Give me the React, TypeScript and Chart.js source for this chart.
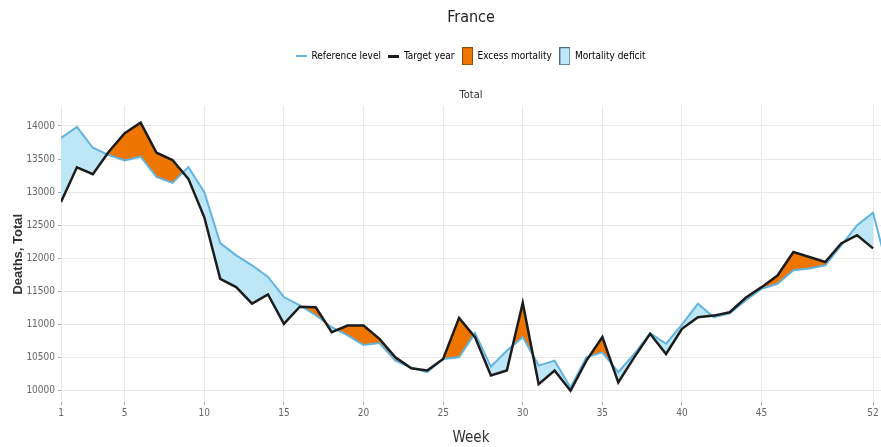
import React, { useEffect, useRef } from 'react';
import { Chart, registerables } from 'chart.js';

Chart.register(...registerables);

// ---- data ----
const weeks = [1, 2, 3, 4, 5, 6, 7, 8, 9, 10, 11, 12, 13, 14, 15, 16, 17, 18, 19, 20, 21, 22, 23, 24, 25, 26, 27, 28, 29, 30, 31, 32, 33, 34, 35, 36, 37, 38, 39, 40, 41, 42, 43, 44, 45, 46, 47, 48, 49, 50, 51, 52, 53];

const referenceLevel = [13820, 13985, 13670, 13560, 13480, 13535, 13230, 13140, 13380, 13000,
  12230, 12045, 11895, 11720, 11415, 11290, 11140, 10960, 10835, 10690,
  10720, 10455, 10345, 10280, 10480, 10505, 10870, 10365, 10605, 10810,
  10380, 10455, 10050, 10505, 10580, 10280, 10555, 10870, 10710, 11000,
  11315, 11110, 11170, 11365, 11540, 11615, 11820, 11845, 11895, 12195,
  12500, 12690, 11760];

const targetYear = [12850, 13375, 13270, 13610, 13890, 14050, 13595, 13485, 13200, 12620,
  11690, 11565, 11315, 11455, 11010, 11270, 11260, 10885, 10985, 10985,
  10785, 10505, 10340, 10305, 10480, 11100, 10810, 10230, 10305, 11325,
  10100, 10305, 10000, 10455, 10810, 10125, 10505, 10860, 10555, 10935,
  11110, 11135, 11185, 11405, 11565, 11740, 12095, 12020, 11945, 12225,
  12350, 12150];

const xTickValues = [1, 5, 10, 15, 20, 25, 30, 35, 40, 45, 52];
const yTickValues = [10000, 10500, 11000, 11500, 12000, 12500, 13000, 13500, 14000];

const legendLabels = ['Reference level', 'Target year', 'Excess mortality', 'Mortality deficit'];

// ---- styles ----
const NARROW = "'Liberation Sans Narrow', 'Arial Narrow', 'DejaVu Sans Condensed', sans-serif";
const BLUE_LINE = '#62b3e0';
const BLUE_FILL = '#bde7f7';
const ORANGE = '#ee7600';
const BLACK = '#1c1c1c';

function makeIcon(w: number, h: number, draw: (ctx: CanvasRenderingContext2D) => void) {
  const c = document.createElement('canvas');
  c.width = w;
  c.height = h;
  const ctx = c.getContext('2d');
  if (ctx) draw(ctx);
  return c;
}

export default function App() {
  const canvasRef = useRef<HTMLCanvasElement | null>(null);

  useEffect(() => {
    document.body.style.margin = '0';
    const canvas = canvasRef.current;
    if (!canvas) return;

    const refIcon = makeIcon(11, 2, (ctx) => {
      ctx.fillStyle = BLUE_LINE;
      ctx.fillRect(0, 0, 11, 2);
    });
    const targetIcon = makeIcon(11, 3, (ctx) => {
      ctx.fillStyle = BLACK;
      ctx.fillRect(0, 0, 11, 3);
    });
    const excessIcon = makeIcon(11, 18, (ctx) => {
      ctx.fillStyle = ORANGE;
      ctx.fillRect(0, 0, 11, 18);
      ctx.strokeStyle = '#8a4a10';
      ctx.lineWidth = 1;
      ctx.strokeRect(0.5, 0.5, 10, 17);
    });
    const deficitIcon = makeIcon(11, 18, (ctx) => {
      ctx.fillStyle = BLUE_FILL;
      ctx.fillRect(0, 0, 11, 18);
      ctx.strokeStyle = '#4a6f80';
      ctx.lineWidth = 1;
      ctx.strokeRect(0.5, 0.5, 10, 17);
    });
    const icons = [refIcon, targetIcon, excessIcon, deficitIcon];
    const iconColors = [BLUE_LINE, BLACK, ORANGE, BLUE_FILL];

    const chart = new Chart(canvas, {
      type: 'line',
      data: {
        labels: weeks,
        datasets: [
          {
            label: 'Target year',
            data: targetYear,
            borderColor: BLACK,
            borderWidth: 2.5,
            pointRadius: 0,
            tension: 0,
            fill: { target: 1, above: ORANGE, below: BLUE_FILL },
          },
          {
            label: 'Reference level',
            data: referenceLevel,
            borderColor: BLUE_LINE,
            borderWidth: 2,
            pointRadius: 0,
            tension: 0,
            fill: false,
          },
        ],
      },
      options: {
        responsive: false,
        animation: false,
        layout: { padding: { left: 0, right: 0, top: 0, bottom: 0 } },
        plugins: {
          filler: { drawTime: 'beforeDatasetsDraw' },
          tooltip: { enabled: false },
          title: {
            display: true,
            text: 'France',
            fullSize: false,
            color: '#222',
            font: { family: NARROW, size: 16, weight: 'normal' },
            padding: { top: 8, bottom: 16 },
          },
          legend: {
            display: true,
            fullSize: false,
            labels: {
              usePointStyle: true,
              color: '#333',
              padding: 8,
              font: { family: NARROW, size: 10 },
              generateLabels: () =>
                legendLabels.map((text, i) => ({
                  text,
                  pointStyle: icons[i] as any,
                  fillStyle: iconColors[i],
                  strokeStyle: iconColors[i],
                  lineWidth: 0,
                  hidden: false,
                  datasetIndex: i,
                })),
            },
          },
          subtitle: {
            display: true,
            text: 'Total',
            fullSize: false,
            weight: 500,
            color: '#333',
            font: { family: NARROW, size: 11, weight: 'normal' },
            padding: { top: 17, bottom: 5 },
          } as any,
        },
        scales: {
          x: {
            type: 'linear',
            min: 1,
            max: 52.5,
            afterBuildTicks: (scale: any) => {
              scale.ticks = xTickValues.map((v) => ({ value: v }));
            },
            afterFit: (scale: any) => {
              scale.height = 45;
            },
            ticks: {
              autoSkip: false,
              maxRotation: 0,
              padding: 2,
              color: '#666',
              font: { family: NARROW, size: 10 },
              callback: (v: any) => String(v),
            },
            grid: { color: '#e8e8e8', lineWidth: 1, tickColor: '#aaa', tickLength: 3 },
            border: { display: false },
            title: {
              display: true,
              text: 'Week',
              color: '#333',
              font: { family: NARROW, size: 15 },
              padding: { top: 0, bottom: 0 },
            },
          },
          y: {
            type: 'linear',
            min: 9830,
            max: 14295,
            afterBuildTicks: (scale: any) => {
              scale.ticks = yTickValues.map((v) => ({ value: v }));
            },
            afterFit: (scale: any) => {
              scale.width = 61;
            },
            ticks: {
              padding: 3,
              color: '#666',
              font: { family: NARROW, size: 10 },
              callback: (v: any) => String(v),
            },
            grid: { color: '#e8e8e8', lineWidth: 1, tickColor: '#aaa', tickLength: 3 },
            border: { display: false },
            title: {
              display: true,
              text: 'Deaths, Total',
              color: '#333',
              font: { family: "'Liberation Sans', Arial, sans-serif", size: 13, weight: 'bold' },
              padding: { top: 11, bottom: 0 },
            },
          },
        },
      },
    });

    return () => {
      chart.destroy();
    };
  }, []);

  return (
    <div style={{ width: 881, height: 447 }}>
      <canvas ref={canvasRef} width={881} height={447} style={{ display: 'block' }} />
    </div>
  );
}
